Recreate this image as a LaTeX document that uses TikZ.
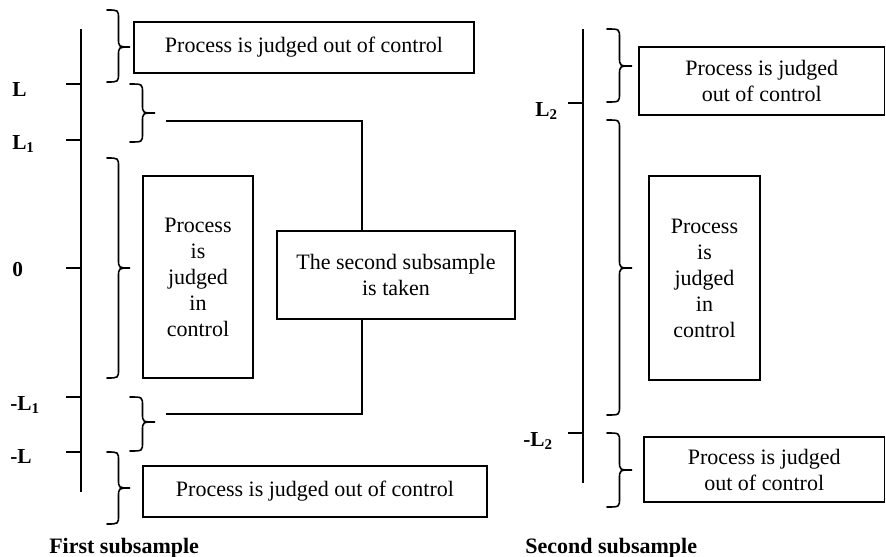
\documentclass[tikz,border=0pt]{standalone}
\usepackage{fontspec}
\setmainfont{Liberation Serif}
\tikzset{
  box/.style={draw, line width=1.2pt, inner sep=0pt, align=center, font=\fontsize{16.5}{19.5}\selectfont},
  ln/.style={line width=1.2pt},
  brc/.style={line width=1.2pt, line cap=round},
  lbl/.style={font=\fontsize{16}{18}\selectfont\bfseries, inner sep=0pt},
  capt/.style={font=\fontsize{16.5}{19.5}\selectfont\bfseries, inner sep=0pt},
}
\newcommand\mybrace[5]{% xe, xt, ytop, ybot, ymid
  \draw[brc] (#1,#3) .. controls ({(#1+#2)/2},#3) .. ({(#1+#2)/2},#3+9)
    -- ({(#1+#2)/2},#5-9) .. controls ({(#1+#2)/2},#5) .. (#2,#5)
    .. controls ({(#1+#2)/2},#5) .. ({(#1+#2)/2},#5+9)
    -- ({(#1+#2)/2},#4-9) .. controls ({(#1+#2)/2},#4) .. (#1,#4);
}
\begin{document}
\begin{tikzpicture}[x=0.75pt,y=-0.75pt]
\useasboundingbox (0,0) rectangle (886,557);

% ---------- first subsample ----------
\draw[ln] (81,29) -- (81,492);
\foreach \yy in {84,140,268,397,452} \draw[ln] (66,\yy) -- (81,\yy);
\node[lbl, anchor=base west] (lL)  at (12,96)  {L};
\node[lbl, anchor=base west] (lL1) at (12,149) {L\textsubscript{1}};
\node[lbl, anchor=base west] (l0)  at (12,276) {0};
\node[lbl, anchor=base west] (lmL1) at (10,410) {-L\textsubscript{1}};
\node[lbl, anchor=base west] (lmL) at (10,463) {-L};

\mybrace{107}{130}{10}{82}{47}
\mybrace{130}{155}{84}{142}{113}
\mybrace{107}{130}{158}{378}{268}
\mybrace{130}{155}{397}{451}{422}
\mybrace{107}{130}{452}{524}{488}

\node[box, minimum width=255pt, minimum height=38.25pt] (tout) at (304,47.5) {Process is judged out of control};
\node[box, minimum width=82.5pt, minimum height=151.5pt] (tin) at (198,277) {Process\\is\\judged\\in\\control};
\node[box, minimum width=178.5pt, minimum height=66pt] (sec) at (396,275) {The second subsample\\is taken};
\node[box, minimum width=258pt, minimum height=38.25pt] (bout) at (315,491.5) {Process is judged out of control};

\coordinate (t1) at (166,121);
\coordinate (j1) at (362,121);
\draw[ln] (t1) -- (j1) -- (j1 |- sec.north);
\coordinate (t2) at (166,414);
\coordinate (j2) at (362,414);
\draw[ln] (sec.south -| j2) -- (j2) -- (t2);

\node[capt, anchor=base west] (cap1) at (49,553) {First subsample};

% ---------- second subsample ----------
\draw[ln] (583,29) -- (583,483);
\draw[ln] (568,103) -- (583,103);
\draw[ln] (568,433) -- (583,433);
\node[lbl, anchor=base east] (lL2)  at (558,116) {L\textsubscript{2}};
\node[lbl, anchor=base east] (lmL2) at (553,446) {-L\textsubscript{2}};

\mybrace{607}{632}{29}{102}{66}
\mybrace{607}{632}{120}{415}{268}
\mybrace{607}{632}{433}{507}{470}

\node[box, minimum width=184.125pt, minimum height=51pt] (rout) at (761.75,81) {Process is judged\\out of control};
\node[box, minimum width=83.25pt, minimum height=153pt] (rin) at (704.5,278) {Process\\is\\judged\\in\\control};
\node[box, minimum width=180.375pt, minimum height=48.75pt] (rbout) at (764.25,469.5) {Process is judged\\out of control};

\node[capt, anchor=base west] (cap2) at (525,553) {Second subsample};
\end{tikzpicture}
\end{document}
